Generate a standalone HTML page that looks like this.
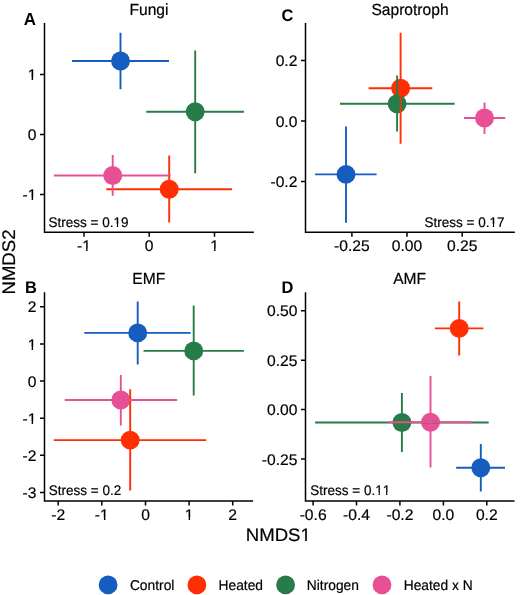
<!DOCTYPE html>
<html><head><meta charset="utf-8"><title>NMDS</title>
<style>
html,body{margin:0;padding:0;background:#fff;}
body{width:520px;height:595px;overflow:hidden;position:relative;}
svg{position:absolute;left:0;top:0;display:block;will-change:transform;}
text{font-family:"Liberation Sans",sans-serif;font-kerning:none;text-rendering:geometricPrecision;fill:#000;stroke:#000;stroke-width:0.2px;stroke-linejoin:round;}
text[font-weight]{stroke:none;}
</style></head>
<body>
<svg width="520" height="595" viewBox="0 0 520 595">
<rect width="520" height="595" fill="#fff"/>
<circle cx="120.5" cy="61" r="9.45" fill="#155EBF"/>
<circle cx="169.2" cy="189.3" r="9.45" fill="#FF2E05"/>
<circle cx="195.2" cy="111.7" r="9.45" fill="#277C48"/>
<circle cx="112.7" cy="175.5" r="9.45" fill="#E85095"/>
<path d="M120.5 32.7V89.2M72 61H169" stroke="#155EBF" stroke-width="1.9" fill="none"/>
<path d="M169.2 155.5V222.5M106.3 189.3H232" stroke="#FF2E05" stroke-width="1.9" fill="none"/>
<path d="M195.2 50.6V173.3M146.3 111.7H243.9" stroke="#277C48" stroke-width="1.9" fill="none"/>
<path d="M112.7 155V195.8M53.9 175.5H170.7" stroke="#E85095" stroke-width="1.9" fill="none"/>
<path d="M44.5 23.7V232.3H253.1" stroke="#000" stroke-width="1.5" fill="none" stroke-linejoin="miter" stroke-linecap="square"/>
<path d="M40 74.5H44.5M40 134.5H44.5M40 194.5H44.5M84 232.3V236.8M149.2 232.3V236.8M214.5 232.3V236.8" stroke="#000" stroke-width="1.5" fill="none"/>
<g transform="translate(36.4 80.1) scale(1 0.985)"><text text-anchor="end" font-size="15.65">1</text><rect x="-8.7" y="-2.57" width="3.89" height="3.47" fill="#fff"/><rect x="-3.34" y="-2.57" width="3.71" height="3.47" fill="#fff"/></g>
<g transform="translate(36.4 140.1) scale(1 0.985)"><text text-anchor="end" font-size="15.65">0</text></g>
<g transform="translate(36.4 200.1) scale(1 0.985)"><text text-anchor="end" font-size="15.65">-1</text><rect x="-8.7" y="-2.57" width="3.89" height="3.47" fill="#fff"/><rect x="-3.34" y="-2.57" width="3.71" height="3.47" fill="#fff"/></g>
<g transform="translate(84 251.2) scale(1 0.985)"><text text-anchor="middle" font-size="15.65">-1</text><rect x="-1.75" y="-2.57" width="3.89" height="3.47" fill="#fff"/><rect x="3.62" y="-2.57" width="3.71" height="3.47" fill="#fff"/></g>
<g transform="translate(149.2 251.2) scale(1 0.985)"><text text-anchor="middle" font-size="15.65">0</text></g>
<g transform="translate(214.5 251.2) scale(1 0.985)"><text text-anchor="middle" font-size="15.65">1</text><rect x="-4.35" y="-2.57" width="3.89" height="3.47" fill="#fff"/><rect x="1.02" y="-2.57" width="3.71" height="3.47" fill="#fff"/></g>
<g transform="translate(149 14.9) scale(1 1.03)"><text text-anchor="middle" font-size="15.6">Fungi</text></g>
<g transform="translate(23.7 25) scale(1 1.03)"><text font-size="17.0" font-weight="bold">A</text></g>
<g transform="translate(48.6 226.8) scale(1 1.03)"><text font-size="13.5">Stress = 0.19</text><rect x="64.9" y="-2.41" width="3.35" height="3.31" fill="#fff"/><rect x="69.54" y="-2.41" width="3.19" height="3.31" fill="#fff"/></g>
<circle cx="346" cy="174.4" r="9.45" fill="#155EBF"/>
<circle cx="400.6" cy="88.2" r="9.45" fill="#FF2E05"/>
<circle cx="397.1" cy="103.7" r="9.45" fill="#277C48"/>
<circle cx="484.5" cy="118" r="9.45" fill="#E85095"/>
<path d="M346 126.5V222.8M315.1 174.4H376.6" stroke="#155EBF" stroke-width="1.9" fill="none"/>
<path d="M400.6 32.7V143.8M368.6 88.2H432.3" stroke="#FF2E05" stroke-width="1.9" fill="none"/>
<path d="M397.1 75.4V131.6M340 103.7H454.6" stroke="#277C48" stroke-width="1.9" fill="none"/>
<path d="M484.5 102.4V133.9M463.9 118H505.2" stroke="#E85095" stroke-width="1.9" fill="none"/>
<path d="M305.5 23.7V232.3H514.1" stroke="#000" stroke-width="1.5" fill="none" stroke-linejoin="miter" stroke-linecap="square"/>
<path d="M301 60.5H305.5M301 121H305.5M301 181.5H305.5M351.9 232.3V236.8M407 232.3V236.8M462.2 232.3V236.8" stroke="#000" stroke-width="1.5" fill="none"/>
<g transform="translate(297.4 66.1) scale(1 0.985)"><text text-anchor="end" font-size="15.65">0.2</text></g>
<g transform="translate(297.4 126.6) scale(1 0.985)"><text text-anchor="end" font-size="15.65">0.0</text></g>
<g transform="translate(297.4 187.1) scale(1 0.985)"><text text-anchor="end" font-size="15.65">-0.2</text></g>
<g transform="translate(351.9 251.2) scale(1 0.985)"><text text-anchor="middle" font-size="15.65">-0.25</text></g>
<g transform="translate(407 251.2) scale(1 0.985)"><text text-anchor="middle" font-size="15.65">0.00</text></g>
<g transform="translate(462.2 251.2) scale(1 0.985)"><text text-anchor="middle" font-size="15.65">0.25</text></g>
<g transform="translate(410 14.8) scale(1 1.03)"><text text-anchor="middle" font-size="15.6">Saprotroph</text></g>
<g transform="translate(281.6 21.3) scale(1 1.03)"><text font-size="16.4" font-weight="bold">C</text></g>
<g transform="translate(504.5 226.6) scale(1 1.03)"><text text-anchor="end" font-size="13.5">Stress = 0.17</text><rect x="-15.02" y="-2.41" width="3.35" height="3.31" fill="#fff"/><rect x="-10.38" y="-2.41" width="3.19" height="3.31" fill="#fff"/></g>
<circle cx="137.7" cy="332.9" r="9.45" fill="#155EBF"/>
<circle cx="130.2" cy="440.1" r="9.45" fill="#FF2E05"/>
<circle cx="193.7" cy="350.9" r="9.45" fill="#277C48"/>
<circle cx="120.8" cy="400" r="9.45" fill="#E85095"/>
<path d="M137.7 301.4V364.4M84.3 332.9H190.6" stroke="#155EBF" stroke-width="1.9" fill="none"/>
<path d="M130.2 389.2V490.6M53.7 440.1H206.3" stroke="#FF2E05" stroke-width="1.9" fill="none"/>
<path d="M193.7 305.6V395.4M143.5 350.9H243.9" stroke="#277C48" stroke-width="1.9" fill="none"/>
<path d="M120.8 375V425.6M64.7 400H177.2" stroke="#E85095" stroke-width="1.9" fill="none"/>
<path d="M44.5 292.9V501.1H252.3" stroke="#000" stroke-width="1.5" fill="none" stroke-linejoin="miter" stroke-linecap="square"/>
<path d="M40 306.85H44.5M40 343.95H44.5M40 381.05H44.5M40 418.25H44.5M40 455.35H44.5M40 492.45H44.5M58.2 501.1V505.6M101.8 501.1V505.6M145.5 501.1V505.6M189.1 501.1V505.6M232.7 501.1V505.6" stroke="#000" stroke-width="1.5" fill="none"/>
<g transform="translate(36.4 312.45) scale(1 0.985)"><text text-anchor="end" font-size="15.65">2</text></g>
<g transform="translate(36.4 349.55) scale(1 0.985)"><text text-anchor="end" font-size="15.65">1</text><rect x="-8.7" y="-2.57" width="3.89" height="3.47" fill="#fff"/><rect x="-3.34" y="-2.57" width="3.71" height="3.47" fill="#fff"/></g>
<g transform="translate(36.4 386.65) scale(1 0.985)"><text text-anchor="end" font-size="15.65">0</text></g>
<g transform="translate(36.4 423.85) scale(1 0.985)"><text text-anchor="end" font-size="15.65">-1</text><rect x="-8.7" y="-2.57" width="3.89" height="3.47" fill="#fff"/><rect x="-3.34" y="-2.57" width="3.71" height="3.47" fill="#fff"/></g>
<g transform="translate(36.4 460.95) scale(1 0.985)"><text text-anchor="end" font-size="15.65">-2</text></g>
<g transform="translate(36.4 498.05) scale(1 0.985)"><text text-anchor="end" font-size="15.65">-3</text></g>
<g transform="translate(58.2 520) scale(1 0.985)"><text text-anchor="middle" font-size="15.65">-2</text></g>
<g transform="translate(101.8 520) scale(1 0.985)"><text text-anchor="middle" font-size="15.65">-1</text><rect x="-1.75" y="-2.57" width="3.89" height="3.47" fill="#fff"/><rect x="3.62" y="-2.57" width="3.71" height="3.47" fill="#fff"/></g>
<g transform="translate(145.5 520) scale(1 0.985)"><text text-anchor="middle" font-size="15.65">0</text></g>
<g transform="translate(189.1 520) scale(1 0.985)"><text text-anchor="middle" font-size="15.65">1</text><rect x="-4.35" y="-2.57" width="3.89" height="3.47" fill="#fff"/><rect x="1.02" y="-2.57" width="3.71" height="3.47" fill="#fff"/></g>
<g transform="translate(232.7 520) scale(1 0.985)"><text text-anchor="middle" font-size="15.65">2</text></g>
<g transform="translate(148.7 283.5) scale(1 1.03)"><text text-anchor="middle" font-size="15.6">EMF</text></g>
<g transform="translate(25 293) scale(1 1.03)"><text font-size="16.4" font-weight="bold">B</text></g>
<g transform="translate(48.8 495.2) scale(1 1.03)"><text font-size="13.5">Stress = 0.2</text></g>
<circle cx="480.8" cy="467.7" r="9.45" fill="#155EBF"/>
<circle cx="459.2" cy="328.4" r="9.45" fill="#FF2E05"/>
<circle cx="401.9" cy="422.5" r="9.45" fill="#277C48"/>
<circle cx="430.5" cy="422.2" r="9.45" fill="#E85095"/>
<path d="M480.8 444V491.5M456.2 467.7H505" stroke="#155EBF" stroke-width="1.9" fill="none"/>
<path d="M459.2 301.5V355.4M434.9 328.4H483.4" stroke="#FF2E05" stroke-width="1.9" fill="none"/>
<path d="M401.9 392.9V452.1M315.1 422.5H488.7" stroke="#277C48" stroke-width="1.9" fill="none"/>
<path d="M430.5 376.1V467.6M388.1 422.2H472.3" stroke="#E85095" stroke-width="1.9" fill="none"/>
<path d="M305.5 292.9V501.1H513.8" stroke="#000" stroke-width="1.5" fill="none" stroke-linejoin="miter" stroke-linecap="square"/>
<path d="M301 310.8H305.5M301 360.2H305.5M301 409.5H305.5M301 458.9H305.5M313.1 501.1V505.6M356.5 501.1V505.6M399.9 501.1V505.6M443.4 501.1V505.6M486.8 501.1V505.6" stroke="#000" stroke-width="1.5" fill="none"/>
<g transform="translate(297.4 316.4) scale(1 0.985)"><text text-anchor="end" font-size="15.65">0.50</text></g>
<g transform="translate(297.4 365.8) scale(1 0.985)"><text text-anchor="end" font-size="15.65">0.25</text></g>
<g transform="translate(297.4 415.1) scale(1 0.985)"><text text-anchor="end" font-size="15.65">0.00</text></g>
<g transform="translate(297.4 464.5) scale(1 0.985)"><text text-anchor="end" font-size="15.65">-0.25</text></g>
<g transform="translate(313.1 520) scale(1 0.985)"><text text-anchor="middle" font-size="15.65">-0.6</text></g>
<g transform="translate(356.5 520) scale(1 0.985)"><text text-anchor="middle" font-size="15.65">-0.4</text></g>
<g transform="translate(399.9 520) scale(1 0.985)"><text text-anchor="middle" font-size="15.65">-0.2</text></g>
<g transform="translate(443.4 520) scale(1 0.985)"><text text-anchor="middle" font-size="15.65">0.0</text></g>
<g transform="translate(486.8 520) scale(1 0.985)"><text text-anchor="middle" font-size="15.65">0.2</text></g>
<g transform="translate(409.6 283.5) scale(1 1.03)"><text text-anchor="middle" font-size="15.6">AMF</text></g>
<g transform="translate(281.6 293) scale(1 1.03)"><text font-size="16.4" font-weight="bold">D</text></g>
<g transform="translate(310.3 495.2) scale(1 1.03)"><text font-size="13.5">Stress = 0.11</text><rect x="64.9" y="-2.41" width="3.35" height="3.31" fill="#fff"/><rect x="69.54" y="-2.41" width="3.19" height="3.31" fill="#fff"/><rect x="72.41" y="-2.41" width="3.35" height="3.31" fill="#fff"/><rect x="77.05" y="-2.41" width="3.19" height="3.31" fill="#fff"/></g>
<g transform="translate(278.3 541.4) scale(1 0.97)"><text text-anchor="middle" font-size="18.6">NMDS1</text><rect x="22.21" y="-2.79" width="4.63" height="3.69" fill="#fff"/><rect x="28.58" y="-2.79" width="4.42" height="3.69" fill="#fff"/></g>
<g transform="translate(14.7 262) rotate(-90) scale(1 0.98)"><text text-anchor="middle" font-size="18.6">NMDS2</text></g>
<circle cx="108.1" cy="584.9" r="9.4" fill="#155EBF"/>
<g transform="translate(129.9 590) scale(1 1.03)"><text font-size="13.8">Control</text></g>
<circle cx="196.9" cy="584.9" r="9.4" fill="#FF2E05"/>
<g transform="translate(218.5 590) scale(1 1.03)"><text font-size="13.8">Heated</text></g>
<circle cx="285.6" cy="584.9" r="9.4" fill="#277C48"/>
<g transform="translate(306.8 590) scale(1 1.03)"><text font-size="13.8">Nitrogen</text></g>
<circle cx="382" cy="584.9" r="9.4" fill="#E85095"/>
<g transform="translate(403.7 590) scale(1 1.03)"><text font-size="13.8">Heated x N</text></g>
</svg>
</body></html>
